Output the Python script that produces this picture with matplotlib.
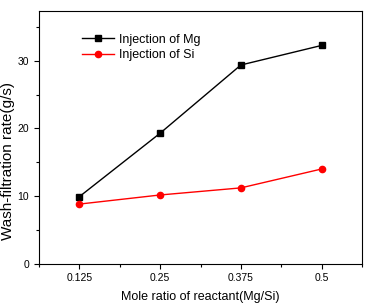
import matplotlib
matplotlib.use('Agg')
import matplotlib.pyplot as plt
from matplotlib.ticker import MultipleLocator

plt.rcParams['font.family'] = ['Liberation Sans', 'DejaVu Sans']

ratio = [0.125, 0.25, 0.375, 0.5]
ratio_labels = ['0.125', '0.25', '0.375', '0.5']
mg_rate = [9.9, 19.3, 29.4, 32.3]
si_rate = [8.8, 10.15, 11.2, 14.0]

fig = plt.figure(figsize=(3.68, 3.03), dpi=100)
ax = fig.add_axes([39/368, 1 - 263.5/303, 323/368, 252.5/303])

ax.plot(ratio, mg_rate, color='black', marker='s', markersize=4.5, lw=1, label='Injection of Mg')
ax.plot(ratio, si_rate, color='red', marker='o', markersize=4.5, lw=1, label='Injection of Si')

ax.set_xlim(0.0625, 0.5625)
ax.set_ylim(0, 37.4)
ax.set_xticks(ratio)
ax.set_xticklabels(ratio_labels)
ax.xaxis.set_minor_locator(MultipleLocator(0.0625))
ax.yaxis.set_major_locator(MultipleLocator(10))
ax.yaxis.set_minor_locator(MultipleLocator(5))
ax.tick_params(which='both', direction='out', labelsize=7.5, width=0.8)
ax.tick_params(which='major', length=3.5)
ax.tick_params(which='minor', length=2)
for s in ax.spines.values():
    s.set_linewidth(0.8)

ax.set_xlabel('Mole ratio of reactant(Mg/Si)', fontsize=9)
ax.set_ylabel('Wash-filtration rate(g/s)', fontsize=11)
ax.xaxis.set_label_coords(0.5, -0.108)
ax.yaxis.set_label_coords(-0.074, 0.406)

ax.legend(loc='upper left', bbox_to_anchor=(0.115, 0.935), frameon=False, fontsize=9,
          handlelength=2.5, handletextpad=0.4, labelspacing=0.3, borderpad=0)

fig.savefig('out.png', dpi=100)
